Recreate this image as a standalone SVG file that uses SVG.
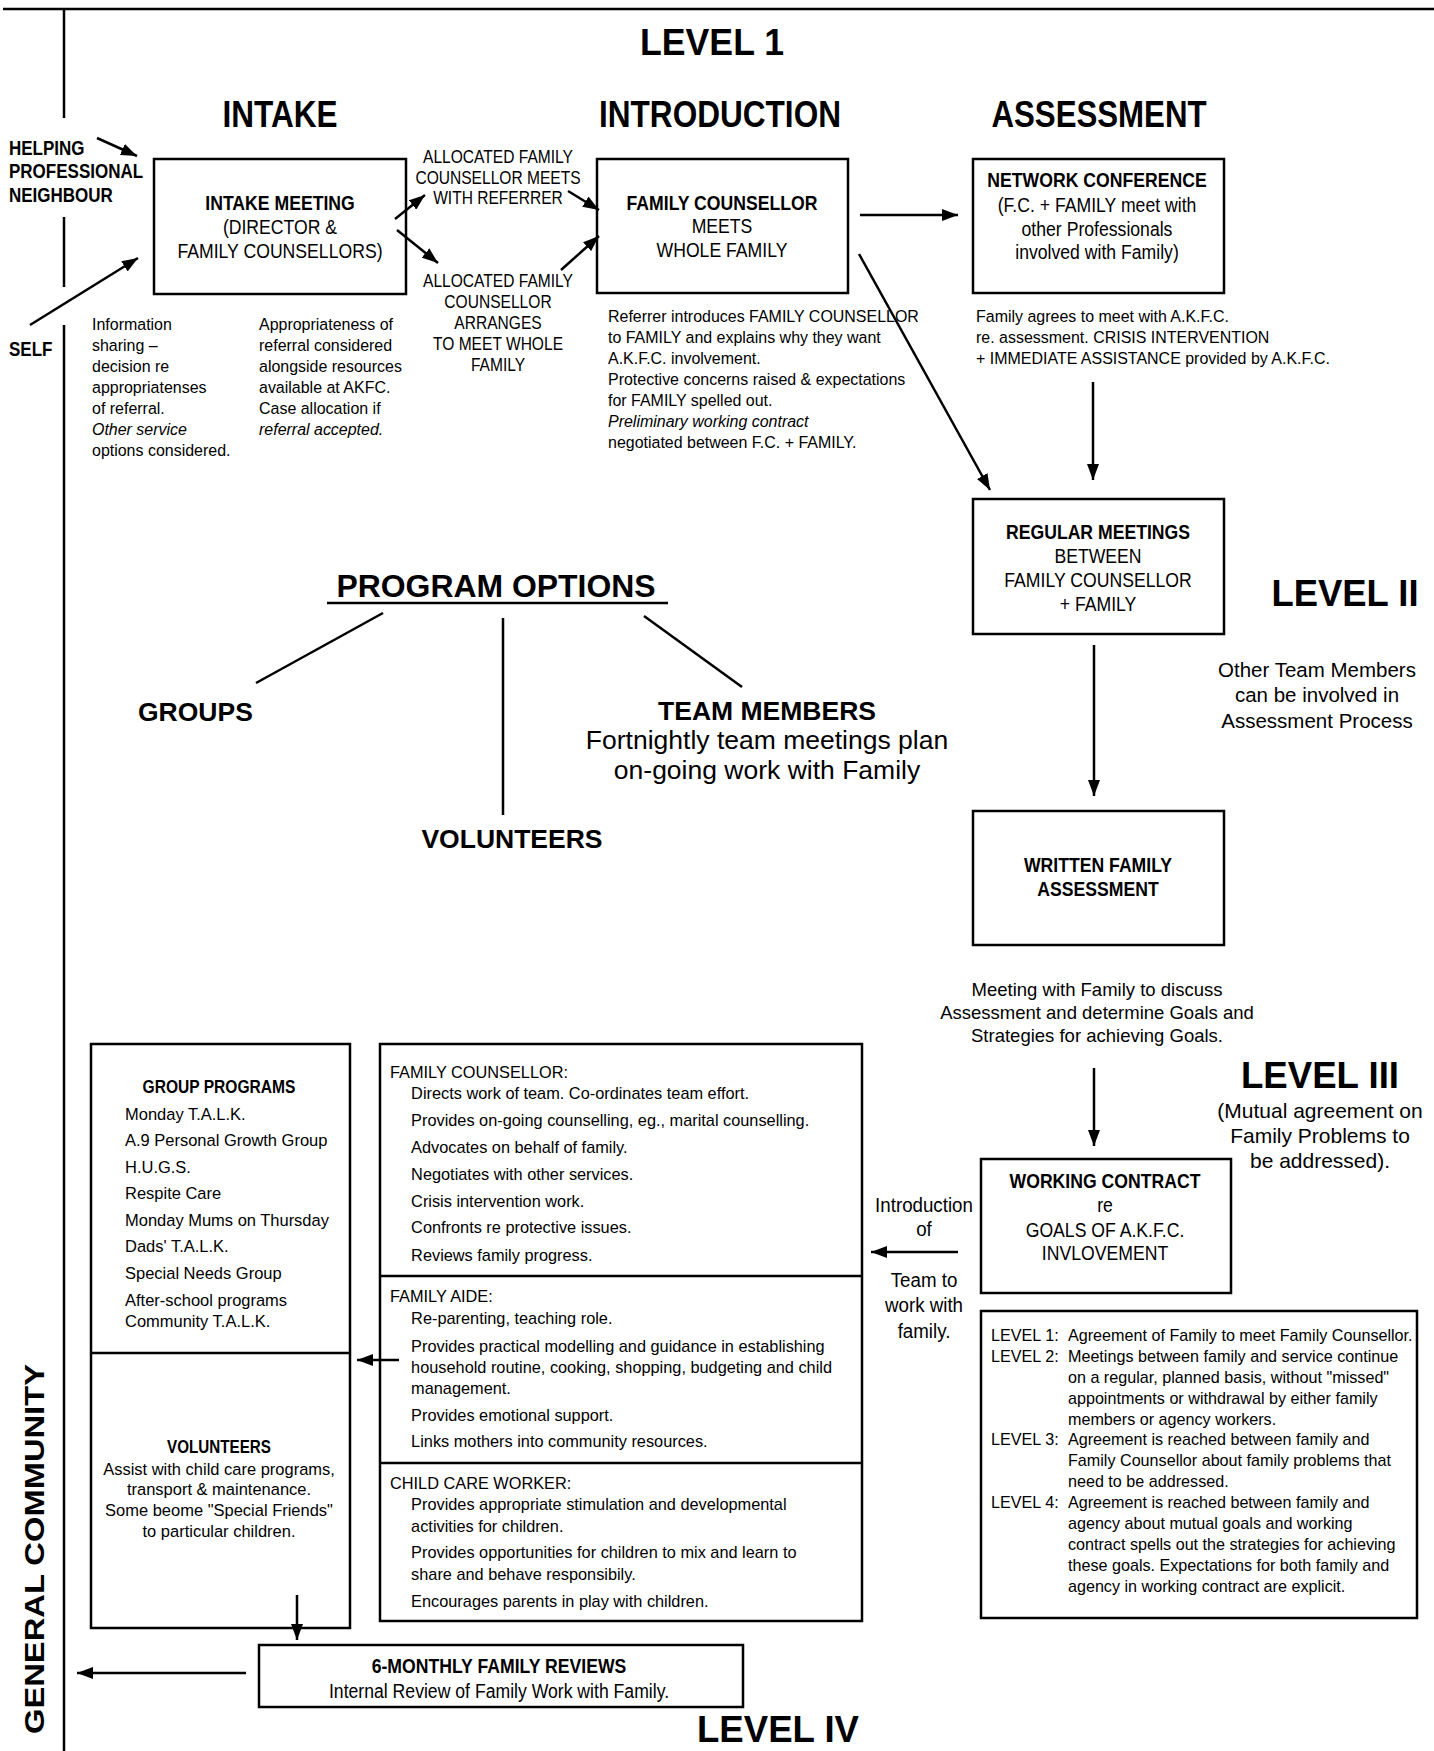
<svg xmlns="http://www.w3.org/2000/svg" width="1434" height="1751" viewBox="0 0 1434 1751">
<style>
text { font-family: "Liberation Sans", Arial, Helvetica, sans-serif; fill: #000; }
.bd { font-weight: bold; }
.m { text-anchor: middle; }
.it { font-style: italic; }
.box { fill: none; stroke: #000; stroke-width: 2.5; }
.ln { fill: none; stroke: #000; stroke-width: 2.5; }
.arr { fill: none; stroke: #000; stroke-width: 2.5; marker-end: url(#ah); }
.t17 { font-size: 17px; }
.t19 { font-size: 19px; }
.t21 { font-size: 21px; }
.hd { font-size: 36px; font-weight: bold; }
</style>
<defs>
<marker id="ah" viewBox="0 0 16 12" refX="16" refY="6" markerWidth="16" markerHeight="12" markerUnits="userSpaceOnUse" orient="auto">
<path d="M0,0 L16,6 L0,12 z" fill="#000"/>
</marker>
</defs>
<rect x="0" y="0" width="1434" height="1751" fill="#fff"/>

<g id="frame">
<line class="ln" x1="3" y1="9" x2="1434" y2="9" stroke-width="3"/>
<line class="ln" x1="64" y1="9" x2="64" y2="118"/>
<line class="ln" x1="64" y1="217" x2="64" y2="287"/>
<line class="ln" x1="64" y1="325" x2="64" y2="1751"/>
<text class="bd m" font-size="27" transform="translate(44,1549) rotate(-90)" textLength="370" lengthAdjust="spacingAndGlyphs">GENERAL COMMUNITY</text>
</g>

<g id="headings">
<text class="hd m" x="712" y="55" font-size="38" textLength="144" lengthAdjust="spacingAndGlyphs">LEVEL 1</text>
<text class="hd m" x="280" y="127" textLength="115" lengthAdjust="spacingAndGlyphs">INTAKE</text>
<text class="hd m" x="720" y="127" textLength="242" lengthAdjust="spacingAndGlyphs">INTRODUCTION</text>
<text class="hd m" x="1099" y="127" textLength="215" lengthAdjust="spacingAndGlyphs">ASSESSMENT</text>
<text class="hd m" x="1345" y="606" textLength="147" lengthAdjust="spacingAndGlyphs">LEVEL II</text>
<text class="hd m" x="1320" y="1088" textLength="158" lengthAdjust="spacingAndGlyphs">LEVEL III</text>
<text class="hd m" x="778" y="1742" font-size="38" textLength="162" lengthAdjust="spacingAndGlyphs">LEVEL IV</text>
</g>

<g id="sources">
<text class="bd t21" transform="translate(9,155) scale(0.81,1)"><tspan x="0" y="0">HELPING</tspan><tspan x="0" y="23">PROFESSIONAL</tspan><tspan x="0" y="47">NEIGHBOUR</tspan></text>
<text class="bd t21" transform="translate(9,356) scale(0.81,1)">SELF</text>
</g>

<g id="intake-meeting">
<rect class="box" x="154" y="159" width="252" height="135"/>
<text class="t21 m" transform="translate(280,210) scale(0.84,1)"><tspan class="bd" x="0" y="0">INTAKE MEETING</tspan><tspan x="0" y="24">(DIRECTOR &amp;</tspan><tspan x="0" y="48">FAMILY COUNSELLORS)</tspan></text>
</g>

<g id="intake-notes">
<text class="t17" transform="translate(92,330) scale(0.94,1)"><tspan x="0" y="0">Information</tspan><tspan x="0" y="21">sharing –</tspan><tspan x="0" y="42">decision re</tspan><tspan x="0" y="63">appropriatenses</tspan><tspan x="0" y="84">of referral.</tspan><tspan class="it" x="0" y="105">Other service</tspan><tspan x="0" y="126">options considered.</tspan></text>
<text class="t17" transform="translate(259,330) scale(0.94,1)"><tspan x="0" y="0">Appropriateness of</tspan><tspan x="0" y="21">referral considered</tspan><tspan x="0" y="42">alongside resources</tspan><tspan x="0" y="63">available at AKFC.</tspan><tspan x="0" y="84">Case allocation if</tspan><tspan class="it" x="0" y="105">referral accepted.</tspan></text>
</g>

<g id="allocated-meets-referrer">
<text class="t19 m" transform="translate(498,163) scale(0.82,1)"><tspan x="0" y="0">ALLOCATED FAMILY</tspan><tspan x="0" y="21">COUNSELLOR MEETS</tspan><tspan x="0" y="41">WITH REFERRER</tspan></text>
</g>
<g id="allocated-arranges">
<text class="t19 m" transform="translate(498,287) scale(0.82,1)"><tspan x="0" y="0">ALLOCATED FAMILY</tspan><tspan x="0" y="21">COUNSELLOR</tspan><tspan x="0" y="42">ARRANGES</tspan><tspan x="0" y="63">TO MEET WHOLE</tspan><tspan x="0" y="84">FAMILY</tspan></text>
</g>

<g id="family-counsellor-meets">
<rect class="box" x="597" y="159" width="251" height="134"/>
<text class="t21 m" transform="translate(722,210) scale(0.84,1)"><tspan class="bd" x="0" y="0">FAMILY COUNSELLOR</tspan><tspan x="0" y="23">MEETS</tspan><tspan x="0" y="47">WHOLE FAMILY</tspan></text>
</g>
<g id="introduction-notes">
<text class="t17" transform="translate(608,322) scale(0.94,1)"><tspan x="0" y="0">Referrer introduces FAMILY COUNSELLOR</tspan><tspan x="0" y="21">to FAMILY and explains why they want</tspan><tspan x="0" y="42">A.K.F.C. involvement.</tspan><tspan x="0" y="63">Protective concerns raised &amp; expectations</tspan><tspan x="0" y="84">for FAMILY spelled out.</tspan><tspan class="it" x="0" y="105">Preliminary working contract</tspan><tspan x="0" y="126">negotiated between F.C. + FAMILY.</tspan></text>
</g>

<g id="network-conference">
<rect class="box" x="973" y="159" width="251" height="134"/>
<text class="t21 m" transform="translate(1097,187) scale(0.84,1)"><tspan class="bd" x="0" y="0">NETWORK CONFERENCE</tspan><tspan x="0" y="25">(F.C. + FAMILY meet with</tspan><tspan x="0" y="49">other Professionals</tspan><tspan x="0" y="72">involved with Family)</tspan></text>
</g>
<g id="assessment-notes">
<text class="t17" transform="translate(976,322) scale(0.94,1)"><tspan x="0" y="0">Family agrees to meet with A.K.F.C.</tspan><tspan x="0" y="21">re. assessment. CRISIS INTERVENTION</tspan><tspan x="0" y="42">+ IMMEDIATE ASSISTANCE provided by A.K.F.C.</tspan></text>
</g>

<g id="regular-meetings">
<rect class="box" x="973" y="499" width="251" height="135"/>
<text class="t21 m" transform="translate(1098,539) scale(0.84,1)"><tspan class="bd" x="0" y="0">REGULAR MEETINGS</tspan><tspan x="0" y="24">BETWEEN</tspan><tspan x="0" y="48">FAMILY COUNSELLOR</tspan><tspan x="0" y="72">+ FAMILY</tspan></text>
</g>
<g id="other-team-note">
<text class="m" font-size="20.5" transform="translate(1317,677)"><tspan x="0" y="0">Other Team Members</tspan><tspan x="0" y="25">can be involved in</tspan><tspan x="0" y="51">Assessment Process</tspan></text>
</g>

<g id="written-assessment">
<rect class="box" x="973" y="811" width="251" height="134"/>
<text class="t21 m bd" transform="translate(1098,872) scale(0.84,1)"><tspan x="0" y="0">WRITTEN FAMILY</tspan><tspan x="0" y="24">ASSESSMENT</tspan></text>
</g>
<g id="meeting-note">
<text class="m" font-size="18.5" transform="translate(1097,996)"><tspan x="0" y="0">Meeting with Family to discuss</tspan><tspan x="0" y="23">Assessment and determine Goals and</tspan><tspan x="0" y="46">Strategies for achieving Goals.</tspan></text>
</g>
<g id="level3-note">
<text class="m" font-size="21" transform="translate(1320,1118)"><tspan x="0" y="0">(Mutual agreement on</tspan><tspan x="0" y="25">Family Problems to</tspan><tspan x="0" y="50">be addressed).</tspan></text>
</g>

<g id="working-contract">
<rect class="box" x="981" y="1159" width="250" height="134"/>
<text class="t21 m" transform="translate(1105,1188) scale(0.84,1)"><tspan class="bd" x="0" y="0">WORKING CONTRACT</tspan><tspan x="0" y="24">re</tspan><tspan x="0" y="49">GOALS OF A.K.F.C.</tspan><tspan x="0" y="72">INVLOVEMENT</tspan></text>
</g>
<g id="introduction-of-team">
<text class="m" font-size="19.5" transform="translate(924,1212) scale(0.96,1)"><tspan x="0" y="0">Introduction</tspan><tspan x="0" y="24">of</tspan><tspan x="0" y="75">Team to</tspan><tspan x="0" y="100">work with</tspan><tspan x="0" y="126">family.</tspan></text>
</g>

<g id="levels-definitions">
<rect class="box" x="981" y="1311" width="436" height="307"/>
<text class="t17" transform="translate(991,1341) scale(0.95,1)">
<tspan x="0" y="0">LEVEL 1:</tspan><tspan x="81" y="0">Agreement of Family to meet Family Counsellor.</tspan>
<tspan x="0" y="20.9">LEVEL 2:</tspan><tspan x="81" y="20.9">Meetings between family and service continue</tspan>
<tspan x="81" y="41.8">on a regular, planned basis, without "missed"</tspan>
<tspan x="81" y="62.7">appointments or withdrawal by either family</tspan>
<tspan x="81" y="83.6">members or agency workers.</tspan>
<tspan x="0" y="104.5">LEVEL 3:</tspan><tspan x="81" y="104.5">Agreement is reached between family and</tspan>
<tspan x="81" y="125.4">Family Counsellor about family problems that</tspan>
<tspan x="81" y="146.3">need to be addressed.</tspan>
<tspan x="0" y="167.2">LEVEL 4:</tspan><tspan x="81" y="167.2">Agreement is reached between family and</tspan>
<tspan x="81" y="188.1">agency about mutual goals and working</tspan>
<tspan x="81" y="209">contract spells out the strategies for achieving</tspan>
<tspan x="81" y="229.9">these goals. Expectations for both family and</tspan>
<tspan x="81" y="250.8">agency in working contract are explicit.</tspan>
</text>
</g>

<g id="program-options">
<text class="bd m" font-size="32" x="496" y="597" textLength="319" lengthAdjust="spacingAndGlyphs">PROGRAM OPTIONS</text>
<line class="ln" x1="327" y1="603" x2="668" y2="603"/>
</g>
<g id="groups">
<text class="bd" font-size="26.5" x="138" y="721">GROUPS</text>
</g>
<g id="volunteers-option">
<text class="bd m" font-size="26.5" x="512" y="848">VOLUNTEERS</text>
</g>
<g id="team-members">
<text class="bd m" font-size="26.5" x="767" y="720" textLength="218" lengthAdjust="spacingAndGlyphs">TEAM MEMBERS</text>
<text class="m" font-size="26.5" x="767" y="749">Fortnightly team meetings plan</text>
<text class="m" font-size="26.5" x="767" y="779">on-going work with Family</text>
</g>

<g id="group-programs">
<rect class="box" x="91" y="1044" width="259" height="584"/>
<line class="ln" x1="91" y1="1353" x2="350" y2="1353"/>
<text class="t19 m bd" transform="translate(219,1093) scale(0.82,1)">GROUP PROGRAMS</text>
<text class="t17" transform="translate(125,1120) scale(0.97,1)"><tspan x="0" y="0">Monday T.A.L.K.</tspan><tspan x="0" y="26.5">A.9 Personal Growth Group</tspan><tspan x="0" y="53">H.U.G.S.</tspan><tspan x="0" y="79.5">Respite Care</tspan><tspan x="0" y="106">Monday Mums on Thursday</tspan><tspan x="0" y="132.5">Dads' T.A.L.K.</tspan><tspan x="0" y="159">Special Needs Group</tspan><tspan x="0" y="186">After-school programs</tspan><tspan x="0" y="207">Community T.A.L.K.</tspan></text>
<text class="t19 m bd" transform="translate(219,1453) scale(0.8,1)">VOLUNTEERS</text>
<text class="t17 m" transform="translate(219,1475) scale(0.97,1)"><tspan x="0" y="0">Assist with child care programs,</tspan><tspan x="0" y="20.5">transport &amp; maintenance.</tspan><tspan x="0" y="41">Some beome "Special Friends"</tspan><tspan x="0" y="62">to particular children.</tspan></text>
</g>

<g id="team-roles">
<rect class="box" x="380" y="1044" width="482" height="577"/>
<line class="ln" x1="380" y1="1276" x2="862" y2="1276"/>
<line class="ln" x1="380" y1="1463" x2="862" y2="1463"/>
<text class="t17" transform="translate(390,1078) scale(0.96,1)"><tspan x="0" y="0">FAMILY COUNSELLOR:</tspan><tspan x="22" y="21">Directs work of team. Co-ordinates team effort.</tspan><tspan x="22" y="48">Provides on-going counselling, eg., marital counselling.</tspan><tspan x="22" y="75">Advocates on behalf of family.</tspan><tspan x="22" y="102">Negotiates with other services.</tspan><tspan x="22" y="129">Crisis intervention work.</tspan><tspan x="22" y="155">Confronts re protective issues.</tspan><tspan x="22" y="183">Reviews family progress.</tspan></text>
<text class="t17" transform="translate(390,1302) scale(0.96,1)"><tspan x="0" y="0">FAMILY AIDE:</tspan><tspan x="22" y="22">Re-parenting, teaching role.</tspan><tspan x="22" y="50">Provides practical modelling and guidance in establishing</tspan><tspan x="22" y="71">household  routine, cooking, shopping, budgeting and child</tspan><tspan x="22" y="92">management.</tspan><tspan x="22" y="119">Provides emotional support.</tspan><tspan x="22" y="145">Links mothers into community resources.</tspan></text>
<text class="t17" transform="translate(390,1489) scale(0.96,1)"><tspan x="0" y="0">CHILD CARE WORKER:</tspan><tspan x="22" y="21">Provides appropriate stimulation and developmental</tspan><tspan x="22" y="43">activities for children.</tspan><tspan x="22" y="69">Provides opportunities for children to mix and learn to</tspan><tspan x="22" y="91">share and behave responsibily.</tspan><tspan x="22" y="118">Encourages parents in play with children.</tspan></text>
</g>

<g id="family-reviews">
<rect class="box" x="259" y="1645" width="484" height="62"/>
<text class="t21 m" transform="translate(499,1673) scale(0.84,1)"><tspan class="bd" x="0" y="0">6-MONTHLY FAMILY REVIEWS</tspan><tspan x="0" y="25">Internal Review of Family Work with Family.</tspan></text>
</g>

<g id="connectors">
<line class="arr" x1="97" y1="138" x2="137" y2="156"/>
<line class="arr" x1="30" y1="325" x2="138" y2="258"/>
<line class="arr" x1="395" y1="219" x2="425" y2="195"/>
<line class="arr" x1="397" y1="230" x2="438" y2="263"/>
<line class="arr" x1="568" y1="191" x2="599" y2="210"/>
<line class="arr" x1="561" y1="270" x2="599" y2="236"/>
<line class="arr" x1="860" y1="215" x2="958" y2="215" stroke-width="3.5"/>
<line class="arr" x1="859" y1="254" x2="990" y2="490"/>
<line class="arr" x1="1093" y1="382" x2="1093" y2="480"/>
<line class="arr" x1="1094" y1="645" x2="1094" y2="796"/>
<line class="arr" x1="1094" y1="1068" x2="1094" y2="1146"/>
<line class="arr" x1="958" y1="1252" x2="871" y2="1252"/>
<line class="arr" x1="399" y1="1360" x2="357" y2="1360"/>
<line class="arr" x1="297" y1="1595" x2="297" y2="1640"/>
<line class="arr" x1="246" y1="1673" x2="77" y2="1673"/>
<line class="ln" x1="383" y1="613" x2="256" y2="683"/>
<line class="ln" x1="503" y1="618" x2="503" y2="815"/>
<line class="ln" x1="644" y1="616" x2="742" y2="687"/>
</g>
</svg>
